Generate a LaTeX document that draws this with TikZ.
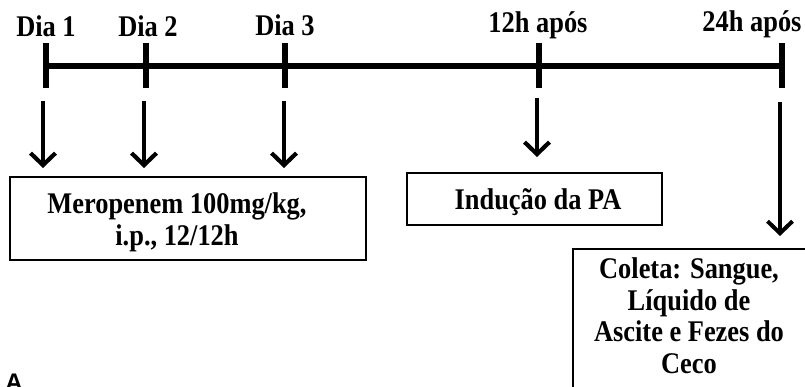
\documentclass[tikz,border=0pt]{standalone}
\usepackage{fontspec}
\setmainfont{Liberation Serif}[FakeStretch=0.88]
\newfontfamily\sansA{Liberation Sans}
\usetikzlibrary{arrows.meta}
\begin{document}
\begin{tikzpicture}[x=1pt,y=-1pt,
  lbl/.style={font=\bfseries\fontsize{30}{32}\selectfont, inner sep=0pt, anchor=base},
  boxtxt/.style={font=\bfseries\fontsize{30}{32}\selectfont, align=center, inner sep=0pt},
  tick/.style={line width=6.5pt},
  axis/.style={line width=6.5pt},
  boxnode/.style={draw, line width=1.4pt, inner sep=0pt},
  downarrow/.style={line width=4.8pt, -{Straight Barb[length=12pt,width=25pt,line width=4.2pt]}},
  longarrow/.style={line width=3.4pt, -{Straight Barb[length=12pt,width=25pt,line width=4pt]}}
]
\useasboundingbox (0,0) rectangle (805,387);
\clip (0,0) rectangle (805,387);
\fill[white] (0,0) rectangle (805,387);

% timeline
\coordinate (t1) at (46,66);
\coordinate (t2) at (146,66);
\coordinate (t3) at (285,66);
\coordinate (t4) at (539,66);
\coordinate (t5) at (782,66);
\draw[axis] (t1) -- (t5);
\foreach \t in {t1,t2,t3,t4,t5}{
  \draw[tick] ([yshift=-22]\t) -- ([yshift=23]\t);
}

% labels
\node[lbl] (l1) at (46,37) {Dia 1};
\node[lbl] (l2) at (148,37) {Dia 2};
\node[lbl] (l3) at (285,36) {Dia 3};
\node[lbl] (l4) at (538,33) {12h após};
\node[lbl] (l5) at (752,32) {24h após};

% boxes
\node[boxnode, minimum width=356pt, minimum height=83pt] (mero) at (188,218.5) {};
\node[boxtxt, anchor=north] (merotxt) at (177,192)
  {Meropenem 100mg/kg,\\ i.p., 12/12h};
\node[boxnode, minimum width=255pt, minimum height=52pt] (ind) at (534.5,199) {};
\node[lbl] (indtxt) at (538,210) {Indução da PA};
\node[boxnode, minimum width=237pt, minimum height=150pt] (col) at (691.5,324) {};
\node[boxtxt, anchor=north, font=\bfseries\fontsize{30}{31.5}\selectfont]
  (coltxt) at (689,257.5)
  {Coleta: Sangue,\\ Líquido de\\ Ascite e Fezes do\\ Ceco};

% arrows
\coordinate (a1s) at (43,101);  \coordinate (a1e) at (43,168);
\coordinate (a2s) at (144,101); \coordinate (a2e) at (144,168);
\coordinate (a3s) at (284,101); \coordinate (a3e) at (284,168);
\coordinate (a4s) at (537,98);  \coordinate (a4e) at (537,157);
\coordinate (a5s) at (780,102); \coordinate (a5e) at (780,236);
\draw[downarrow] (a1s) -- (a1e);
\draw[downarrow] (a2s) -- (a2e);
\draw[downarrow] (a3s) -- (a3e);
\draw[downarrow] (a4s) -- (a4e);
\draw[longarrow] (a5s) -- (a5e);

% panel letter (cut off at the bottom, as in the reference)
\node[font=\sansA\bfseries\fontsize{24}{28}\selectfont, inner sep=0pt, anchor=north] (pa) at (14,374) {A};
\end{tikzpicture}
\end{document}
